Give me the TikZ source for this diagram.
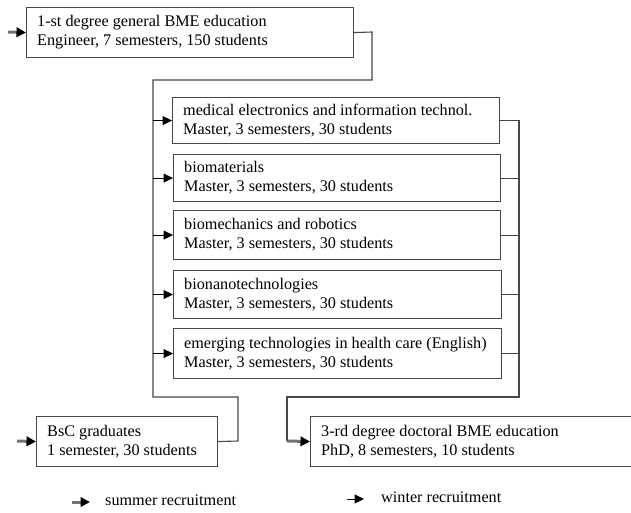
\documentclass[tikz,border=0pt]{standalone}
\usepackage{fontspec}
\setmainfont{Liberation Serif}
\usetikzlibrary{arrows.meta,calc}
\tikzset{
  box/.style={draw=black!72, line width=1.1pt, rectangle, inner sep=0pt, anchor=north west},
  txt/.style={anchor=west, align=left, inner sep=0pt,
    font=\fontsize{16.2}{19}\selectfont, text=black},
  wire/.style={draw=black!72, line width=1.1pt},
  winter/.style={draw=black, line width=1pt, -{Triangle[length=9.5pt,width=9pt]}},
  summer/.style={draw=black!55, line width=3pt, -{Triangle[length=9.5pt,width=9.5pt,fill=black,color=black]}},
  lbl/.style={anchor=west, inner sep=0pt, font=\fontsize{16.2}{19}\selectfont, text=black}
}
\begin{document}
\begin{tikzpicture}[x=1pt,y=-1pt]
\useasboundingbox (0,0) rectangle (631,512);
\clip (0,0) rectangle (631,512);
\fill[white] (0,0) rectangle (631,512);

% boxes
\node[box, minimum width=327pt, minimum height=50pt] (b1) at (26,7) {};
\node[txt] (b1t) at ($(b1.west)+(11,0)$) {1-st degree general BME education\\Engineer, 7 semesters, 150 students};

\node[box, minimum width=327pt, minimum height=46pt] (m1) at (172,97) {};
\node[txt] (m1t) at ($(m1.west)+(11,0)$) {medical electronics and information technol.\\Master, 3 semesters, 30 students};

\node[box, minimum width=327pt, minimum height=47pt] (m2) at (173,154) {};
\node[txt] (m2t) at ($(m2.west)+(11,0)$) {biomaterials\\Master, 3 semesters, 30 students};

\node[box, minimum width=327pt, minimum height=49pt] (m3) at (173,210) {};
\node[txt] (m3t) at ($(m3.west)+(11,0)$) {biomechanics and robotics\\Master, 3 semesters, 30 students};

\node[box, minimum width=328pt, minimum height=48pt] (m4) at (173,270) {};
\node[txt] (m4t) at ($(m4.west)+(11,0)$) {bionanotechnologies\\Master, 3 semesters, 30 students};

\node[box, minimum width=328pt, minimum height=50pt] (m5) at (173,328) {};
\node[txt] (m5t) at ($(m5.west)+(11,0)$) {emerging technologies in health care (English)\\Master, 3 semesters, 30 students};

\node[box, minimum width=181pt, minimum height=50pt] (bsc) at (36,416) {};
\node[txt] (bsct) at ($(bsc.west)+(11,0)$) {BsC graduates\\1 semester, 30 students};

\node[box, minimum width=350pt, minimum height=50pt] (phd) at (310,416) {};
\node[txt] (phdt) at ($(phd.west)+(11,0)$) {3-rd degree doctoral BME education\\PhD, 8 semesters, 10 students};

% routing points
\coordinate (in1) at (8,32);
\coordinate (inb) at (17,441);
\coordinate (r1) at (372,32);
\coordinate (r2) at (372,80);
\coordinate (lt) at (153,80);
\coordinate (lb) at (153,397);
\coordinate (bt) at (238,397);
\coordinate (bb) at (238,441);
\coordinate (rt) at (519,120);
\coordinate (rb) at (519,397);
\coordinate (pt) at (287,397);
\coordinate (pb) at (287,441);

% input arrows (summer)
\draw[summer] (in1) -- (b1.west);
\draw[summer] (inb) -- (bsc.west);

% from first degree to left bus and BsC
\draw[wire] (b1.east) -- (r1) -- (r2) -- (lt) -- (lb) -- (bt) -- (bb) -- (bsc.east);

% left bus to master boxes (winter)
\foreach \m in {m1,m2,m3,m4,m5}{
  \draw[winter] (lt |- \m.west) -- (\m.west);
}

% master boxes to right bus
\foreach \m in {m1,m2,m3,m4,m5}{
  \draw[wire] (\m.east) -- (rt |- \m.east);
}
\draw[wire] (rt) -- (rb) -- (pt) -- (pb);
\draw[summer] (pb) -- (phd.west);

% legend
\coordinate (s1) at (72,502);
\coordinate (s2) at (90,502);
\coordinate (w1) at (347,499);
\coordinate (w2) at (364,499);
\draw[summer] (s1) -- (s2);
\node[lbl] (sl) at (105,500) {summer recruitment};
\draw[winter] (w1) -- (w2);
\node[lbl] (wl) at (381,497) {winter recruitment};
\end{tikzpicture}
\end{document}
